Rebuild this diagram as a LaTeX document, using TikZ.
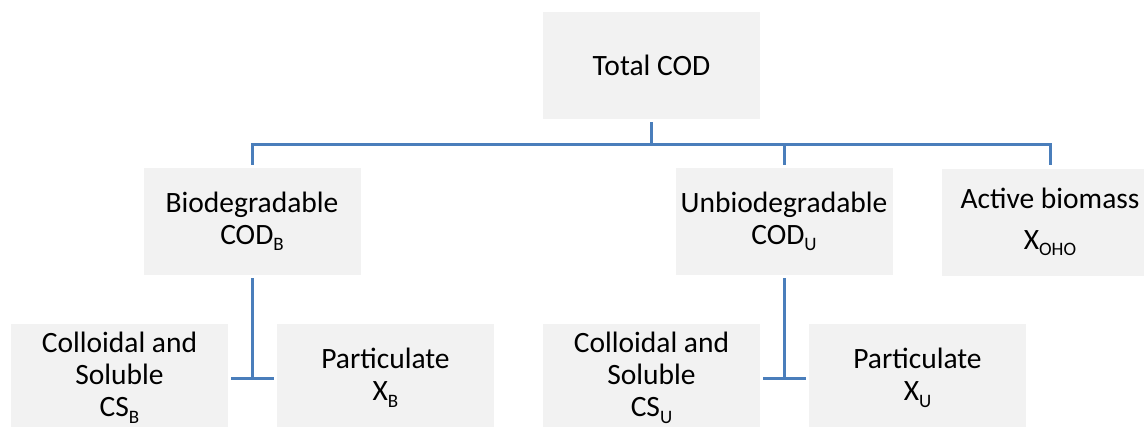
\documentclass[tikz,border=0pt]{standalone}
\usepackage{fontspec}
\setmainfont{Carlito}
\definecolor{boxfill}{HTML}{F2F2F2}
\definecolor{linec}{HTML}{4A7EBB}
\newcommand{\mysub}[1]{\raisebox{-6.5pt}{\fontsize{19}{19}\selectfont #1}}
\begin{document}
\begin{tikzpicture}[x=1pt,y=-1pt,
  box/.style={fill=boxfill,draw=none,minimum width=217pt,minimum height=107pt,
    align=center,inner sep=0pt,font=\fontsize{29.5}{32}\selectfont},
  tallbox/.style={box,minimum height=108pt},
  conn/.style={draw=linec,line width=3pt}]
\clip (0,0) rectangle (1144,426);
\fill[white] (0,0) rectangle (1144,426);
\node[box] (total) at (651.5,65.5) {Total COD};
\node[box] (bio) at (252,221.5) {Biodegradable\\COD\mysub{B}};
\node[box] (unbio) at (784,221.5) {Unbiodegradable\\COD\mysub{U}};
\node[box] (active) at (1050,222) {Active biomass\\[9pt]X\mysub{OHO}};
\node[tallbox] (csb) at (119.5,378) {Colloidal and\\Soluble\\CS\mysub{B}};
\node[tallbox] (xb) at (385.5,378) {Particulate\\X\mysub{B}};
\node[tallbox] (csu) at (651.5,378) {Colloidal and\\Soluble\\CS\mysub{U}};
\node[tallbox] (xu) at (917.5,378) {Particulate\\X\mysub{U}};
\coordinate (j) at (651.5,144);
\draw[conn,shorten <=3pt] (total.south) -- (j);
\draw[conn,shorten <=3pt,shorten >=3pt] (bio.north) -- (bio.north |- j) -- (active.north |- j) -- (active.north);
\draw[conn,shorten >=3pt] (unbio.north |- j) -- (unbio.north);
\draw[conn,shorten <=3pt] (bio.south) -- (bio.south |- csb.east);
\draw[conn,shorten <=3pt,shorten >=3pt] (csb.east) -- (xb.west);
\draw[conn,shorten <=3pt] (unbio.south) -- (unbio.south |- csu.east);
\draw[conn,shorten <=3pt,shorten >=3pt] (csu.east) -- (xu.west);
\end{tikzpicture}
\end{document}
